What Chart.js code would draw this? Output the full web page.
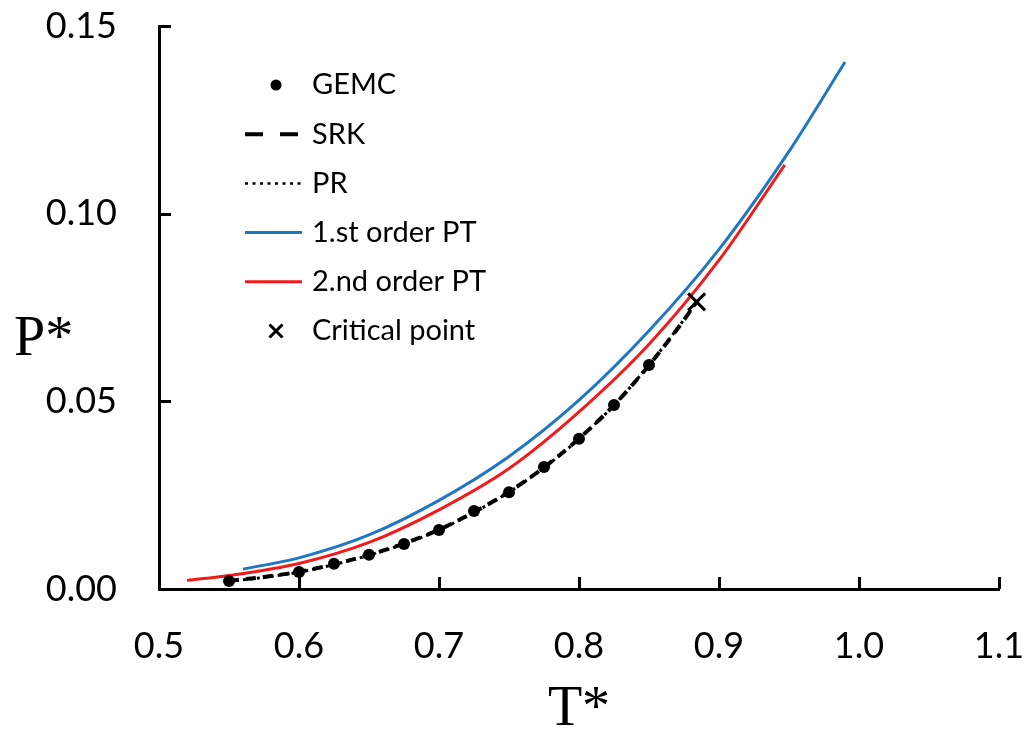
<!DOCTYPE html>
<html>
<head>
<meta charset="utf-8">
<title>Vapour pressure P* vs T*</title>
<script src="https://cdn.jsdelivr.net/npm/chart.js@4/dist/chart.umd.min.js"></script>
<style>
  html, body { margin: 0; padding: 0; background: #ffffff; }
  #c { display: block; }
</style>
</head>
<body>
<canvas id="c" width="1027" height="736"></canvas>
<script>
// ---- data -------------------------------------------------------------
// GEMC simulation points
const gemcT = [0.55, 0.60, 0.625, 0.65, 0.675, 0.70, 0.725, 0.75, 0.775, 0.80, 0.825, 0.85];
const gemcP = [0.0021, 0.0045, 0.0067, 0.0091, 0.0120, 0.0157, 0.0208, 0.0258, 0.0325, 0.0400, 0.0490, 0.0597];

// Equation-of-state curves (SRK, PR) up to the critical point
const eosT = [0.55, 0.575, 0.60, 0.625, 0.65, 0.675, 0.70, 0.725, 0.75, 0.775, 0.80, 0.825, 0.85, 0.875, 0.884];
const srkP = [0.0022, 0.0032, 0.0046, 0.0066, 0.0091, 0.0121, 0.0158, 0.0205, 0.0259, 0.0324, 0.0401, 0.0490, 0.0596, 0.0717, 0.0765];
const prP  = [0.0021, 0.0031, 0.0045, 0.0065, 0.0090, 0.0120, 0.0157, 0.0204, 0.0258, 0.0323, 0.0400, 0.0490, 0.0597, 0.0718, 0.0765];

// Perturbation theory curves
const pt1T = [0.56, 0.60, 0.65, 0.70, 0.75, 0.80, 0.85, 0.90, 0.95, 0.99];
const pt1P = [0.0053, 0.0083, 0.0144, 0.0236, 0.0353, 0.0503, 0.0688, 0.0905, 0.1166, 0.1404];
const pt2T = [0.52, 0.55, 0.60, 0.65, 0.70, 0.75, 0.80, 0.85, 0.90, 0.947];
const pt2P = [0.0023, 0.0036, 0.0068, 0.0124, 0.0211, 0.0321, 0.0472, 0.0652, 0.0876, 0.1130];

// Critical point
const critT = [0.884];
const critP = [0.0765];

// Axis ticks
const xTicks = [0.5, 0.6, 0.7, 0.8, 0.9, 1.0, 1.1];
const yTicks = [0.00, 0.05, 0.10, 0.15];

const xy = (xs, ys) => xs.map((x, i) => ({ x: x, y: ys[i] }));

// ---- plugins ----------------------------------------------------------
// Short tick marks pointing into the plot area
const innerTicks = {
  id: 'innerTicks',
  afterDraw(chart) {
    const { ctx, chartArea, scales } = chart;
    const len = 12;
    ctx.save();
    ctx.strokeStyle = '#000';
    ctx.lineWidth = 3;
    ctx.beginPath();
    xTicks.forEach(v => {
      const px = Math.round(scales.x.getPixelForValue(v)) + 0.5;
      ctx.moveTo(px, chartArea.bottom);
      ctx.lineTo(px, chartArea.bottom - len);
    });
    yTicks.forEach(v => {
      const py = Math.round(scales.y.getPixelForValue(v)) + 0.5;
      ctx.moveTo(chartArea.left, py);
      ctx.lineTo(chartArea.left + len, py);
    });
    ctx.stroke();
    ctx.restore();
  }
};

// Horizontal y-axis title
const yTitle = {
  id: 'yTitle',
  afterDraw(chart) {
    const { ctx } = chart;
    ctx.save();
    ctx.fillStyle = '#000';
    ctx.font = '56px "Liberation Serif", "Times New Roman", serif';
    ctx.textAlign = 'left';
    ctx.textBaseline = 'alphabetic';
    ctx.fillText('P*', 14, 355);
    ctx.restore();
  }
};

// Legend drawn inside the plot area, styled from each dataset
const innerLegend = {
  id: 'innerLegend',
  afterDraw(chart) {
    const { ctx } = chart;
    const x0 = 245, x1 = 302, xm = 276, xt = 312, y0 = 85, dy = 49.2;
    ctx.save();
    ctx.font = '29px Lato, "Open Sans", sans-serif';
    ctx.textBaseline = 'middle';
    ctx.textAlign = 'left';
    chart.data.datasets.forEach((ds, i) => {
      const y = y0 + i * dy;
      ctx.strokeStyle = ds.borderColor;
      ctx.fillStyle = ds.backgroundColor;
      if (ds.legendKind === 'dot') {
        ctx.beginPath();
        ctx.arc(xm, y, 5.5, 0, Math.PI * 2);
        ctx.fill();
      } else if (ds.legendKind === 'cross') {
        const r = 6.5;
        ctx.lineWidth = 3;
        ctx.beginPath();
        ctx.moveTo(xm - r, y - r); ctx.lineTo(xm + r, y + r);
        ctx.moveTo(xm - r, y + r); ctx.lineTo(xm + r, y - r);
        ctx.stroke();
      } else {
        ctx.lineWidth = ds.legendWidth || ds.borderWidth;
        ctx.setLineDash(ds.legendDash || []);
        ctx.beginPath();
        ctx.moveTo(x0, y);
        ctx.lineTo(x1, y);
        ctx.stroke();
        ctx.setLineDash([]);
      }
      ctx.fillStyle = '#000';
      ctx.fillText(ds.label, xt, y);
    });
    ctx.restore();
  }
};

// ---- chart ------------------------------------------------------------
const tickFont = { family: 'Lato, "Open Sans", sans-serif', size: 36 };

new Chart(document.getElementById('c'), {
  type: 'scatter',
  data: {
    datasets: [
      {
        label: 'GEMC', legendKind: 'dot',
        data: xy(gemcT, gemcP),
        showLine: false,
        pointRadius: 6, pointHoverRadius: 6,
        backgroundColor: '#000', borderColor: '#000', borderWidth: 0,
        order: 0
      },
      {
        label: 'SRK', legendKind: 'line', legendDash: [18, 17], legendWidth: 4,
        data: xy(eosT, srkP),
        showLine: true, pointRadius: 0,
        borderColor: '#000', backgroundColor: '#000',
        borderWidth: 4, borderDash: [10, 7],
        cubicInterpolationMode: 'monotone',
        order: 1
      },
      {
        label: 'PR', legendKind: 'line', legendDash: [3, 4.5], legendWidth: 2.5,
        data: xy(eosT, prP),
        showLine: true, pointRadius: 0,
        borderColor: '#000', backgroundColor: '#000',
        borderWidth: 3, borderDash: [3, 4],
        cubicInterpolationMode: 'monotone',
        order: 2
      },
      {
        label: '1.st order PT', legendKind: 'line',
        data: xy(pt1T, pt1P),
        showLine: true, pointRadius: 0,
        borderColor: '#1f77c4', backgroundColor: '#1f77c4',
        borderWidth: 3,
        cubicInterpolationMode: 'monotone',
        order: 4
      },
      {
        label: '2.nd order PT', legendKind: 'line',
        data: xy(pt2T, pt2P),
        showLine: true, pointRadius: 0,
        borderColor: '#f21b1b', backgroundColor: '#f21b1b',
        borderWidth: 3,
        cubicInterpolationMode: 'monotone',
        order: 3
      },
      {
        label: 'Critical point', legendKind: 'cross',
        data: xy(critT, critP),
        showLine: false,
        pointStyle: 'crossRot',
        pointRadius: 12, pointHoverRadius: 12,
        borderColor: '#000', backgroundColor: '#000',
        pointBorderWidth: 3,
        order: 0
      }
    ]
  },
  options: {
    responsive: false,
    animation: false,
    events: [],
    clip: false,
    layout: { padding: { top: 26, right: 28, left: 0, bottom: 0 } },
    plugins: {
      legend: { display: false },
      tooltip: { enabled: false },
      title: { display: false }
    },
    scales: {
      x: {
        type: 'linear',
        min: 0.5, max: 1.1,
        afterBuildTicks: s => { s.ticks = xTicks.map(v => ({ value: v })); },
        afterFit: s => { s.height = 147; s.paddingLeft = 0; s.paddingRight = 0; },
        ticks: {
          color: '#000', font: tickFont, padding: 36,
          maxRotation: 0, autoSkip: false,
          callback: v => Number(v).toFixed(1)
        },
        grid: { drawOnChartArea: false, drawTicks: false },
        border: { display: true, color: '#000', width: 3 },
        title: {
          display: true, text: 'T*', color: '#000',
          font: { family: '"Liberation Serif", "Times New Roman", serif', size: 56, lineHeight: 0.5 },
          padding: { top: 0, bottom: 12 }
        }
      },
      y: {
        type: 'linear',
        min: 0, max: 0.15,
        afterBuildTicks: s => { s.ticks = yTicks.map(v => ({ value: v })); },
        afterFit: s => { s.width = 159; s.paddingTop = 0; s.paddingBottom = 0; },
        ticks: {
          color: '#000', font: tickFont, padding: 42,
          autoSkip: false,
          callback: v => Number(v).toFixed(2)
        },
        grid: { drawOnChartArea: false, drawTicks: false },
        border: { display: true, color: '#000', width: 3 }
      }
    }
  },
  plugins: [innerTicks, yTitle, innerLegend]
});
</script>
</body>
</html>
